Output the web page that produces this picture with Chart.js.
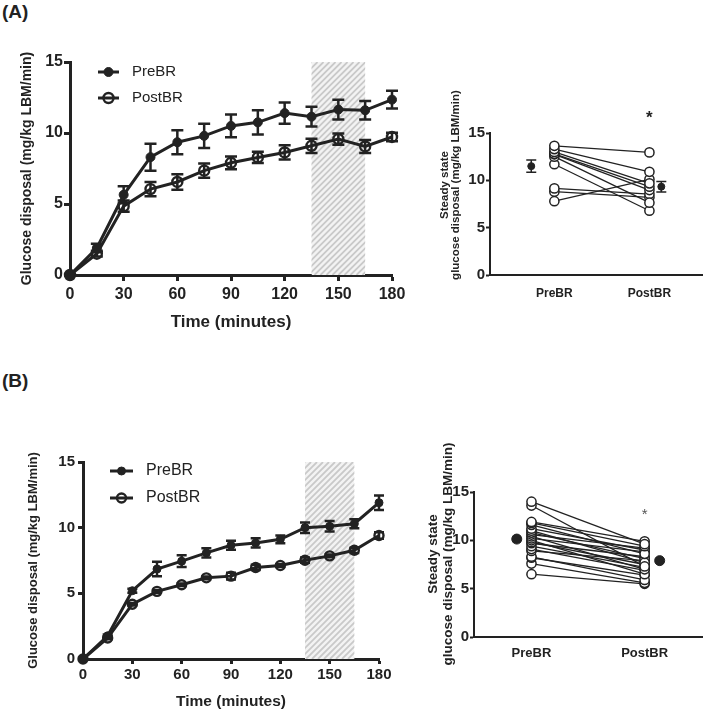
<!DOCTYPE html>
<html>
<head>
<meta charset="utf-8">
<script src="https://cdn.jsdelivr.net/npm/chart.js@4.4.1/dist/chart.umd.min.js"></script>
<style>
  body { margin: 0; background: #fff; }
  #wrap { position: relative; width: 709px; height: 713px; overflow: hidden; }
  canvas { position: absolute; }
  .panel { position: absolute; font: bold 19px "Liberation Sans", Arial, sans-serif; color: #222; }
</style>
</head>
<body>
<div id="wrap">
  <div class="panel" style="left:2px; top:1px;">(A)</div>
  <div class="panel" style="left:2px; top:370px;">(B)</div>
  <canvas id="chartA1" width="420" height="300" style="left:0; top:40px;"></canvas>
  <canvas id="chartB1" width="420" height="293" style="left:0; top:420px;"></canvas>
  <canvas id="chartA2" width="309" height="230" style="left:400px; top:80px;"></canvas>
  <canvas id="chartB2" width="309" height="273" style="left:400px; top:440px;"></canvas>
</div>
<script>
// ---- data ----
const timeMin = [0, 15, 30, 45, 60, 75, 90, 105, 120, 135, 150, 165, 180];
const steadyWindow = [135, 165];
const groupLabels = ["PreBR", "PostBR"];
const sigGroup = 1;

// (A) time course
const preA      = [0, 1.9, 5.65, 8.3, 9.35, 9.8, 10.5, 10.75, 11.4, 11.15, 11.65, 11.6, 12.35];
const preAErr   = [0, 0.3, 0.6, 0.95, 0.85, 0.85, 0.8, 0.85, 0.75, 0.7, 0.7, 0.65, 0.62];
const postA     = [0, 1.5, 4.85, 6.05, 6.55, 7.35, 7.9, 8.28, 8.63, 9.1, 9.57, 9.05, 9.72];
const postAErr  = [0, 0.2, 0.4, 0.5, 0.55, 0.5, 0.45, 0.4, 0.5, 0.5, 0.4, 0.45, 0.3];

// (A) individual steady state
const subjPreA  = [13.65, 13.3, 13.0, 12.8, 12.75, 12.5, 11.7, 9.15, 8.8, 7.8];
const subjPostA = [12.95, 10.9, 9.68, 9.33, 8.97, 7.64, 6.79, 8.55, 8.2, 10.1];
const meanA     = [11.5, 9.33];
const meanAErr  = [0.65, 0.55];

// (B) time course
const preB      = [0, 1.77, 5.2, 6.85, 7.45, 8.08, 8.66, 8.84, 9.11, 10.0, 10.1, 10.3, 11.9];
const preBErr   = [0, 0.1, 0.15, 0.55, 0.45, 0.35, 0.35, 0.35, 0.3, 0.4, 0.4, 0.35, 0.55];
const postB     = [0, 1.6, 4.17, 5.15, 5.65, 6.18, 6.31, 6.97, 7.12, 7.52, 7.85, 8.28, 9.4];
const postBErr  = [0, 0.1, 0.1, 0.1, 0.1, 0.1, 0.25, 0.2, 0.1, 0.2, 0.1, 0.2, 0.25];

// (B) individual steady state
const subjPreB  = [14.0, 13.6, 11.9, 11.8, 11.6, 11.2, 11.0, 10.8, 10.6, 10.4, 10.2, 10.0, 9.8, 9.7, 9.4, 9.1, 8.9, 8.3, 8.2, 7.6, 6.5];
const subjPostB = [9.6, 7.3, 9.9, 9.4, 8.6, 9.0, 7.7, 8.1, 9.2, 7.0, 8.8, 6.5, 7.5, 8.3, 7.2, 6.9, 7.9, 5.9, 6.4, 5.6, 5.5];
const meanB     = [10.13, 7.9];
const meanBErr  = [0.3, 0.25];

const ink = '#222';
const family = '"Liberation Sans", Arial, sans-serif';

// ---- plugins ----
const errorBars = {
  id: 'errorBars',
  beforeDatasetsDraw(chart) {
    const ctx = chart.ctx, y = chart.scales.y;
    chart.data.datasets.forEach((ds, i) => {
      if (!ds.errors) return;
      const meta = chart.getDatasetMeta(i);
      ctx.save();
      ctx.strokeStyle = ink;
      ctx.lineWidth = ds.errorWidth || 2;
      meta.data.forEach((pt, j) => {
        const e = ds.errors[j];
        if (!e) return;
        const v = typeof ds.data[j] === 'object' ? ds.data[j].y : ds.data[j];
        const top = y.getPixelForValue(v + e), bot = y.getPixelForValue(v - e);
        const w = ds.capWidth || 6;
        ctx.beginPath();
        ctx.moveTo(pt.x, top); ctx.lineTo(pt.x, bot);
        ctx.moveTo(pt.x - w, top); ctx.lineTo(pt.x + w, top);
        ctx.moveTo(pt.x - w, bot); ctx.lineTo(pt.x + w, bot);
        ctx.stroke();
      });
      ctx.restore();
    });
  }
};

const hatch = {
  id: 'hatch',
  beforeDatasetsDraw(chart, args, opts) {
    if (!opts.range) return;
    const ctx = chart.ctx, a = chart.chartArea, x = chart.scales.x;
    const x0 = x.getPixelForValue(opts.range[0]), x1 = x.getPixelForValue(opts.range[1]);
    const h = a.bottom - a.top;
    ctx.save();
    ctx.beginPath();
    ctx.rect(x0, a.top, x1 - x0, h);
    ctx.clip();
    ctx.fillStyle = '#f3f3f3';
    ctx.fillRect(x0, a.top, x1 - x0, h);
    ctx.strokeStyle = '#c9c9c9';
    ctx.lineWidth = 1.8;
    for (let s = x0 - h; s < x1; s += opts.spacing) {
      ctx.beginPath();
      ctx.moveTo(s, a.bottom);
      ctx.lineTo(s + h, a.top);
      ctx.stroke();
    }
    ctx.restore();
  }
};

const lineLegend = {
  id: 'lineLegend',
  afterDraw(chart, args, opts) {
    if (opts.x === undefined) return;
    const ctx = chart.ctx;
    chart.data.datasets.forEach((ds, i) => {
      const y = opts.y + i * opts.gap;
      ctx.save();
      ctx.strokeStyle = ink;
      ctx.lineWidth = ds.borderWidth;
      ctx.beginPath();
      ctx.moveTo(opts.x, y); ctx.lineTo(opts.x + opts.len, y);
      ctx.stroke();
      ctx.beginPath();
      ctx.arc(opts.x + opts.len / 2, y, ds.pointRadius, 0, Math.PI * 2);
      if (ds.pointBackgroundColor !== 'transparent') { ctx.fillStyle = ink; ctx.fill(); }
      ctx.lineWidth = ds.pointBorderWidth;
      ctx.stroke();
      ctx.fillStyle = ink;
      ctx.font = opts.font;
      ctx.textBaseline = 'middle';
      ctx.fillText(ds.label, opts.x + opts.len + opts.textGap, y);
      ctx.restore();
    });
  }
};

const freeText = {
  id: 'freeText',
  afterDraw(chart, args, opts) {
    const ctx = chart.ctx;
    (opts.items || []).forEach(t => {
      const x = t.xValue !== undefined ? chart.scales.x.getPixelForValue(t.xValue) : t.x;
      ctx.save();
      ctx.translate(x, t.y);
      if (t.rotate) ctx.rotate(t.rotate);
      ctx.font = t.font;
      ctx.fillStyle = t.color || ink;
      ctx.textAlign = 'center';
      ctx.textBaseline = 'middle';
      ctx.fillText(t.text, 0, 0);
      ctx.restore();
    });
  }
};

// ---- time course charts ----
function timeChart(id, pre, preErr, post, postErr, o) {
  return new Chart(document.getElementById(id), {
    type: 'line',
    data: {
      labels: timeMin,
      datasets: [{
        label: 'PreBR',
        data: timeMin.map((t, i) => ({x: t, y: pre[i]})),
        errors: preErr,
        borderColor: ink, borderWidth: 3,
        pointRadius: o.preR, pointBackgroundColor: ink, pointBorderColor: ink, pointBorderWidth: 1,
        errorWidth: o.errW, capWidth: o.cap, clip: false
      }, {
        label: 'PostBR',
        data: timeMin.map((t, i) => ({x: t, y: post[i]})),
        errors: postErr,
        borderColor: ink, borderWidth: 3,
        pointRadius: o.postR, pointBackgroundColor: 'transparent', pointBorderColor: ink, pointBorderWidth: 2.4,
        errorWidth: o.errW, capWidth: o.cap, clip: false
      }]
    },
    options: {
      responsive: false,
      animation: false,
      layout: { padding: { top: o.padTop, right: o.padRight, left: 0, bottom: 0 } },
      scales: {
        x: {
          type: 'linear', min: 0, max: 180,
          ticks: { stepSize: 30, color: ink, font: { family: family, size: o.tickSize, weight: 'bold' }, padding: o.xTickPad, maxRotation: 0, autoSkip: false },
          grid: { display: true, drawOnChartArea: false, tickLength: o.tickLen, tickWidth: 3, tickColor: ink },
          border: { color: ink, width: 3 },
          title: { display: true, text: 'Time (minutes)', color: ink, font: { family: family, size: o.xTitleSize, weight: 'bold' }, padding: { top: 0, bottom: o.xTitlePad } },
          afterFit(s) { s.height = o.xH; s.paddingLeft = 0; s.paddingRight = 0; }
        },
        y: {
          min: 0, max: 15,
          ticks: { stepSize: 5, color: ink, font: { family: family, size: o.tickSize, weight: 'bold' }, padding: o.yTickPad },
          grid: { display: true, drawOnChartArea: false, tickLength: o.tickLen, tickWidth: 3, tickColor: ink },
          border: { color: ink, width: 3 },
          title: { display: true, text: 'Glucose disposal (mg/kg LBM/min)', color: ink, font: { family: family, size: o.yTitleSize, weight: 'bold' }, padding: { top: o.yTitlePad, bottom: 0 } },
          afterFit(s) { s.width = o.yW; s.paddingTop = 0; s.paddingBottom = 0; }
        }
      },
      plugins: {
        legend: { display: false },
        tooltip: { enabled: false },
        hatch: { range: steadyWindow, spacing: 6 },
        lineLegend: { x: o.legX, y: o.legY, gap: o.legGap, len: o.legLen, textGap: 13, font: o.legFont }
      }
    },
    plugins: [hatch, errorBars, lineLegend]
  });
}

timeChart('chartA1', preA, preAErr, postA, postAErr, {
  padTop: 22, padRight: 28, yW: 70, xH: 65, tickSize: 16,
  preR: 4.5, postR: 5, errW: 2.5, cap: 6, tickLen: 6,
  xTickPad: 4, yTickPad: 1, xTitleSize: 17, xTitlePad: 7, yTitleSize: 14, yTitlePad: 19,
  legX: 98, legY: 32, legGap: 26, legLen: 21, legFont: '15px ' + family
});

timeChart('chartB1', preB, preBErr, postB, postBErr, {
  padTop: 42, padRight: 41, yW: 83, xH: 54, tickSize: 15,
  preR: 4, postR: 4.5, errW: 2.5, cap: 5, tickLen: 5,
  xTickPad: 2, yTickPad: 3, xTitleSize: 15.5, xTitlePad: 2, yTitleSize: 13, yTitlePad: 26,
  legX: 110, legY: 51, legGap: 27, legLen: 23, legFont: '16px ' + family
});

// ---- paired steady-state charts ----
function pairedChart(id, pre, post, mean, meanErr, o) {
  const pairs = pre.map((v, i) => ({
    data: [{x: 0, y: v}, {x: 1, y: post[i]}],
    showLine: true, borderColor: ink, borderWidth: 1.3,
    pointRadius: o.r, pointBackgroundColor: '#fff', pointBorderColor: ink, pointBorderWidth: 1.5, clip: false
  }));
  const means = mean.map((m, i) => ({
    data: [{x: o.meanX[i], y: m}],
    errors: [meanErr[i]], errorWidth: 1.5, capWidth: o.cap,
    pointRadius: o.meanR, pointBackgroundColor: ink, pointBorderColor: ink, clip: false
  }));
  return new Chart(document.getElementById(id), {
    type: 'scatter',
    data: { datasets: pairs.concat(means) },
    options: {
      responsive: false,
      animation: false,
      layout: { padding: { top: o.padTop, right: o.padRight, left: 0, bottom: 0 } },
      scales: {
        x: {
          type: 'linear', min: o.xMin, max: o.xMax,
          afterBuildTicks(s) { s.ticks = groupLabels.map((g, i) => ({ value: i })); },
          ticks: { callback: v => groupLabels[Math.round(v)], color: ink, font: { family: family, size: o.xTickSize, weight: 'bold' }, padding: o.xTickPad, maxRotation: 0, autoSkip: false },
          grid: { display: false },
          border: { color: ink, width: 2 },
          afterFit(s) { s.height = o.xH; s.paddingLeft = 0; s.paddingRight = 0; }
        },
        y: {
          min: 0, max: 15,
          ticks: { stepSize: 5, color: ink, font: { family: family, size: 15, weight: 'bold' }, padding: 1 },
          grid: { display: true, drawOnChartArea: false, tickLength: 4, tickWidth: 2, tickColor: ink },
          border: { color: ink, width: 2 },
          afterFit(s) { s.width = o.yW; s.paddingTop = 0; s.paddingBottom = 0; }
        }
      },
      plugins: {
        legend: { display: false },
        tooltip: { enabled: false },
        freeText: { items: [
          { text: 'Steady state', x: o.t1x, y: o.ty, rotate: -Math.PI / 2, font: 'bold ' + o.titleSize + 'px ' + family },
          { text: 'glucose disposal (mg/kg LBM/min)', x: o.t2x, y: o.ty, rotate: -Math.PI / 2, font: 'bold ' + o.titleSize + 'px ' + family },
          { text: '*', xValue: sigGroup, y: o.starY, font: o.starFont, color: o.starColor }
        ] }
      }
    },
    plugins: [errorBars, freeText]
  });
}

pairedChart('chartA2', subjPreA, subjPostA, meanA, meanAErr, {
  padTop: 53, padRight: 4, yW: 90, xH: 35, xMin: -0.677, xMax: 1.5625,
  r: 4.6, meanR: 3.5, cap: 5, meanX: [-0.243, 1.125],
  xTickSize: 12, xTickPad: 3, titleSize: 11.5, t1x: 45, t2x: 56, ty: 105,
  starY: 38, starFont: 'bold 17px ' + family, starColor: ink
});

pairedChart('chartB2', subjPreB, subjPostB, meanB, meanBErr, {
  padTop: 52, padRight: 6, yW: 74, xH: 76, xMin: -0.508, xMax: 1.515,
  r: 4.6, meanR: 5, cap: 4, meanX: [-0.13, 1.133],
  xTickSize: 13, xTickPad: 1, titleSize: 13.5, t1x: 33, t2x: 48, ty: 114,
  starY: 75, starFont: '15px ' + family, starColor: '#555'
});
</script>
</body>
</html>
